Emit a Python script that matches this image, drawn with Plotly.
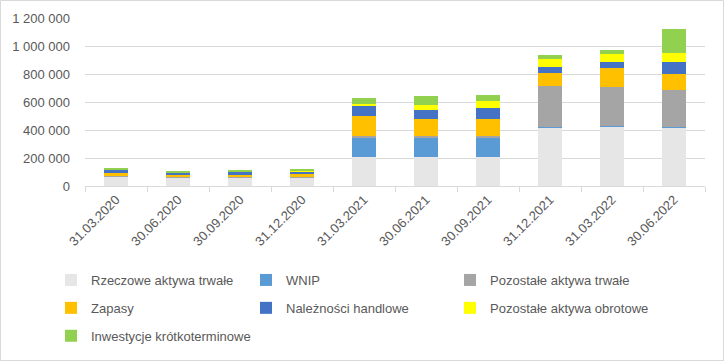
import plotly.graph_objects as go

dates = ["31.03.2020", "30.06.2020", "30.09.2020", "31.12.2020", "31.03.2021",
         "30.06.2021", "30.09.2021", "31.12.2021", "31.03.2022", "30.06.2022"]

rzeczowe = [68000, 60000, 60000, 60000, 209000, 209000, 209000, 419000, 424000, 417000]
wnip = [0, 0, 0, 0, 136000, 136000, 136000, 6000, 7000, 7000]
pozostale_trwale = [5000, 5000, 5000, 6000, 14000, 14000, 14000, 291000, 279000, 264000]
zapasy = [23000, 17000, 17000, 21000, 143000, 121000, 121000, 93000, 136000, 114000]
naleznosci = [19000, 13000, 20000, 20000, 71000, 64000, 78000, 43000, 43000, 86000]
pozostale_obrotowe = [2000, 2000, 2000, 3000, 14000, 36000, 50000, 57000, 57000, 64000]
inwestycje = [5000, 6000, 6000, 6000, 43000, 64000, 43000, 29000, 29000, 171000]

series = [
    ("Rzeczowe aktywa trwałe", rzeczowe, "#E7E6E6", "legend"),
    ("WNIP", wnip, "#5B9BD5", "legend2"),
    ("Pozostałe aktywa trwałe", pozostale_trwale, "#A5A5A5", "legend3"),
    ("Zapasy", zapasy, "#FFC000", "legend"),
    ("Należności handlowe", naleznosci, "#4472C4", "legend2"),
    ("Pozostałe aktywa obrotowe", pozostale_obrotowe, "#FFFF00", "legend3"),
    ("Inwestycje krótkoterminowe", inwestycje, "#92D050", "legend"),
]

FONT = "Liberation Sans, Arial, sans-serif"
TXT = "#595959"
GRID = "#D9D9D9"

fig = go.Figure()
for i, (name, vals, color, lg) in enumerate(series):
    fig.add_trace(go.Bar(x=dates, y=vals, name=name, marker_color=color,
                         marker_line_width=0, legend=lg, legendgroup=f"g{i}"))

W, H = 724, 361
L, R, T, B = 85, 19, 18, 175
pw = W - L - R
ph = H - T - B

def px_x(x):
    return (x - L) / pw

def px_y(y):
    return (H - B - y) / ph

leg_common = dict(orientation="v", traceorder="grouped", tracegroupgap=8,
                  font=dict(family=FONT, size=13, color=TXT),
                  bgcolor="rgba(0,0,0,0)", xanchor="left", yanchor="top",
                  itemwidth=30)

fig.update_layout(
    width=W, height=H,
    margin=dict(l=L, r=R, t=T, b=B, autoexpand=False),
    barmode="stack", bargap=0.6,
    paper_bgcolor="white", plot_bgcolor="white",
    separators=", ",
    font=dict(family=FONT, size=13, color=TXT),
    legend=dict(x=px_x(51), y=px_y(265), **leg_common),
    legend2=dict(x=px_x(246), y=px_y(265), **leg_common),
    legend3=dict(x=px_x(450), y=px_y(265), **leg_common),
    xaxis=dict(type="category", showgrid=False, showline=True, linecolor=GRID,
               linewidth=1, ticks="outside", tickson="boundaries", ticklen=5,
               tickcolor=GRID, tickangle=-45,
               tickfont=dict(family=FONT, size=13, color=TXT)),
    yaxis=dict(range=[0, 1200000], dtick=200000, tickformat=",d",
               showgrid=True, gridcolor=GRID, gridwidth=1, zeroline=False,
               showline=False, ticks="", ticklabelstandoff=14,
               tickfont=dict(family=FONT, size=13, color=TXT)),
    shapes=[dict(type="rect", xref="paper", yref="paper",
                 x0=(0.5 - L) / pw, x1=(W - 0.5 - L) / pw,
                 y0=-(B - 0.5) / ph, y1=1 + (T - 0.5) / ph,
                 line=dict(color=GRID, width=1), layer="below")],
)

fig.write_html("out.html", config={"displayModeBar": False},
               post_script="document.body.style.margin='0';document.body.style.overflow='hidden';")
